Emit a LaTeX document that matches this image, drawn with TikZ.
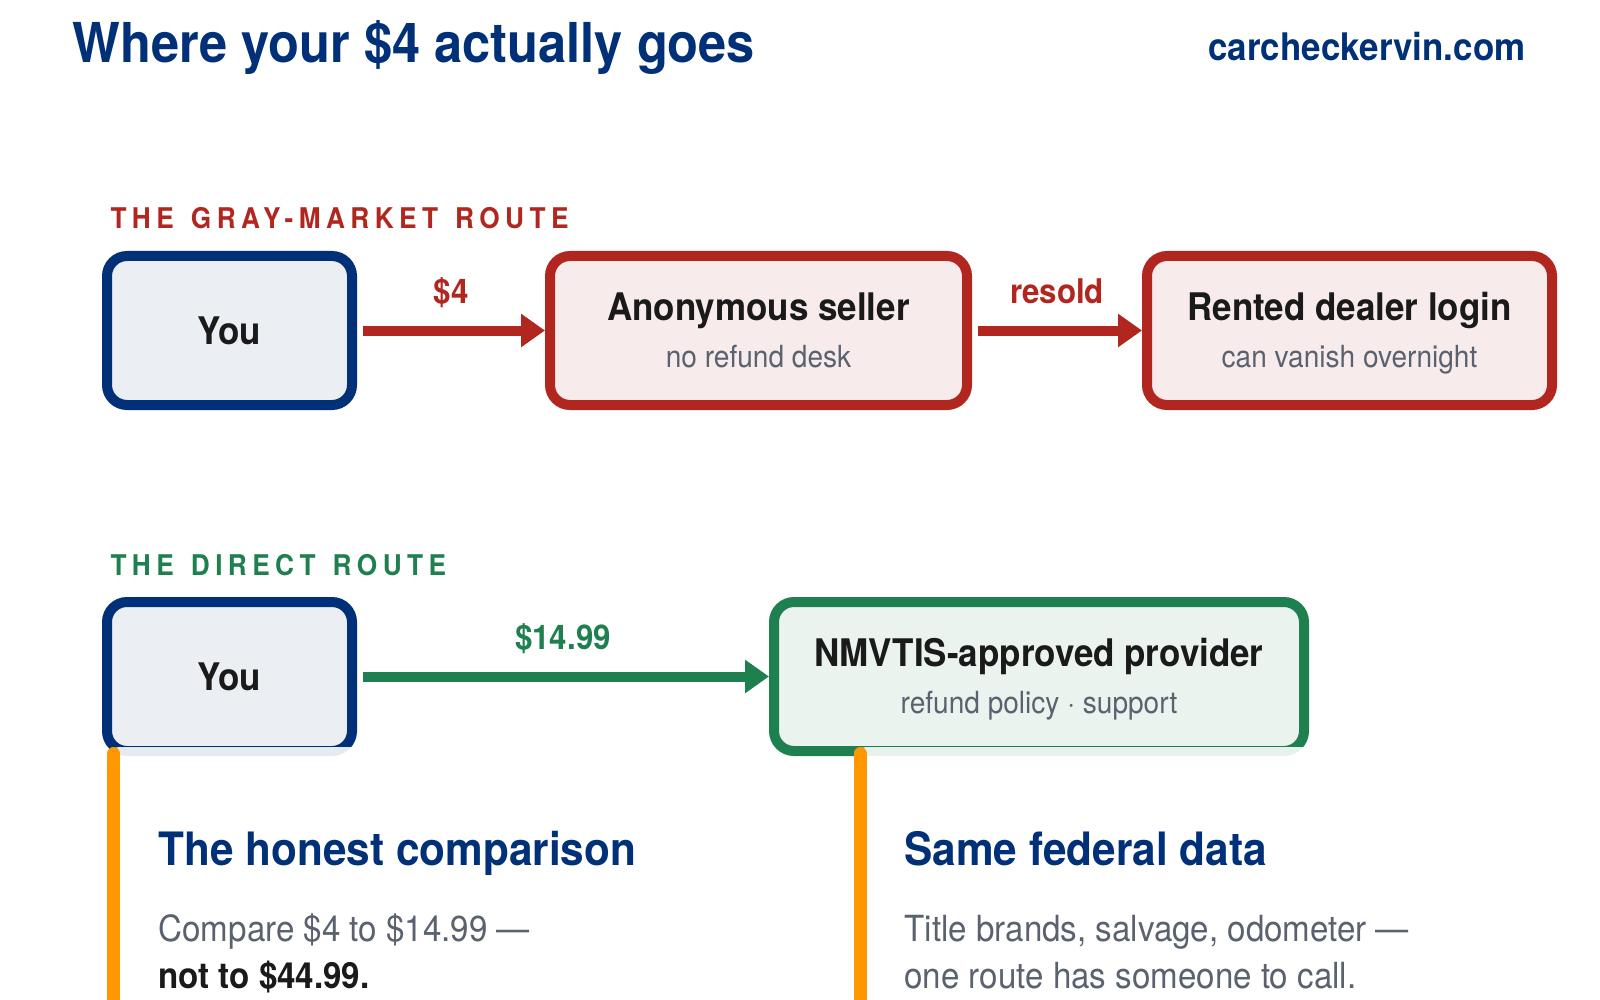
\documentclass[tikz,border=0pt]{standalone}
\usepackage{fontspec}
\setmainfont{TeX Gyre Heros}[FakeStretch=0.92]
\newfontfamily\routefont{TeX Gyre Heros}[FakeStretch=0.92,LetterSpace=19,WordSpace=1.35]
\usetikzlibrary{arrows.meta,positioning}
\definecolor{navy}{HTML}{003178}
\definecolor{youfill}{HTML}{EBEEF3}
\definecolor{redline}{HTML}{B22620}
\definecolor{redfill}{HTML}{F8EBEB}
\definecolor{greenline}{HTML}{1E7F4F}
\definecolor{greenfill}{HTML}{EAF3EE}
\definecolor{ink}{HTML}{1A1A1A}
\definecolor{slate}{HTML}{5A6270}
\definecolor{amber}{HTML}{FF9800}
\begin{document}
\begin{tikzpicture}[x=1pt,y=-1pt,
	routebox/.style={draw,line width=10pt,rounded corners=20pt,minimum height=149pt,inner sep=0pt},
	youbox/.style={routebox,draw=navy,fill=youfill,minimum width=245pt},
	badbox/.style={routebox,draw=redline,fill=redfill},
	goodbox/.style={routebox,draw=greenline,fill=greenfill},
	flow/.style={line width=10pt,shorten <=6pt,-{Triangle[length=24pt,width=32pt]}},
	flowlabel/.style={anchor=base,yshift=27pt,font=\fontsize{34}{40}\selectfont\bfseries},
	boxtitle/.style={anchor=base,text=ink,font=\fontsize{38}{44}\selectfont\bfseries},
	boxsub/.style={anchor=base,text=slate,font=\fontsize{30.5}{36}\selectfont},
	routehead/.style={anchor=base west,font=\routefont\fontsize{28.5}{34}\selectfont\bfseries},
	cardhead/.style={anchor=base west,text=navy,font=\fontsize{46}{52}\selectfont\bfseries},
	cardtext/.style={anchor=base west,text=slate,font=\fontsize{36}{42}\selectfont},
	card/.style={fill=white,fill opacity=0.9,rounded corners=12pt},
	cardbar/.style={amber,line width=13pt,line cap=round}]
	\useasboundingbox (0,0) rectangle (1600,1000);
	\node[anchor=base west,text=navy,font=\fontsize{55}{60}\selectfont\bfseries] (title) at (69,63) {Where your \$4 actually goes};
	\node[anchor=base east,text=navy,font=\fontsize{38}{44}\selectfont\bfseries] (site) at (1529,61) {carcheckervin.com};
	% gray-market route
	\node[routehead,text=redline] (grayhead) at (107,229) {THE GRAY-MARKET ROUTE};
	\node[youbox] (you1) at (229.5,330.5) {};
	\node[badbox,minimum width=417pt] (seller) at (758.5,330.5) {};
	\node[badbox,minimum width=405pt] (login) at (1349.5,330.5) {};
	\node[boxtitle] at ([yshift=-13.5pt]you1.center) {You};
	\node[boxtitle] at ([yshift=10.5pt]seller.center) {Anonymous seller};
	\node[boxsub] at ([yshift=-36.5pt]seller.center) {no refund desk};
	\node[boxtitle] at ([yshift=10.5pt]login.center) {Rented dealer login};
	\node[boxsub] at ([yshift=-36.5pt]login.center) {can vanish overnight};
	\draw[flow,redline] (you1) -- node[flowlabel,text=redline] {\$4} (seller);
	\draw[flow,redline] (seller) -- node[flowlabel,text=redline] {resold} (login);
	% direct route
	\node[routehead,text=greenline] (directhead) at (107,575) {THE DIRECT ROUTE};
	\node[youbox] (you2) at (229.5,676.5) {};
	\node[goodbox,minimum width=530pt] (provider) at (1039,676.5) {};
	\node[boxtitle] at ([yshift=-13.5pt]you2.center) {You};
	\node[boxtitle] at ([yshift=10.5pt]provider.center) {NMVTIS-approved provider};
	\node[boxsub] at ([yshift=-36.5pt]provider.center) {refund policy · support};
	\draw[flow,greenline] (you2) -- node[flowlabel,text=greenline] {\$14.99} (provider);
	% cards
	\fill[card] (107,747) rectangle (745,1020);
	\fill[card] (854,747) rectangle (1585,1020);
	\draw[cardbar] (113.5,753.5) -- (113.5,1020);
	\draw[cardbar] (860,753.5) -- (860,1020);
	\node[cardhead] (cmphead) at (155,865) {The honest comparison};
	\node[cardtext] (cmpline1) at (155,941) {Compare \$4 to \$14.99 —};
	\node[cardtext,text=ink,font=\fontsize{36}{42}\selectfont\bfseries] (cmpline2) at (155,988) {not to \$44.99.};
	\node[cardhead] (datahead) at (901,865) {Same federal data};
	\node[cardtext] (dataline1) at (901,941) {Title brands, salvage, odometer —};
	\node[cardtext] (dataline2) at (901,988) {one route has someone to call.};
\end{tikzpicture}
\end{document}
